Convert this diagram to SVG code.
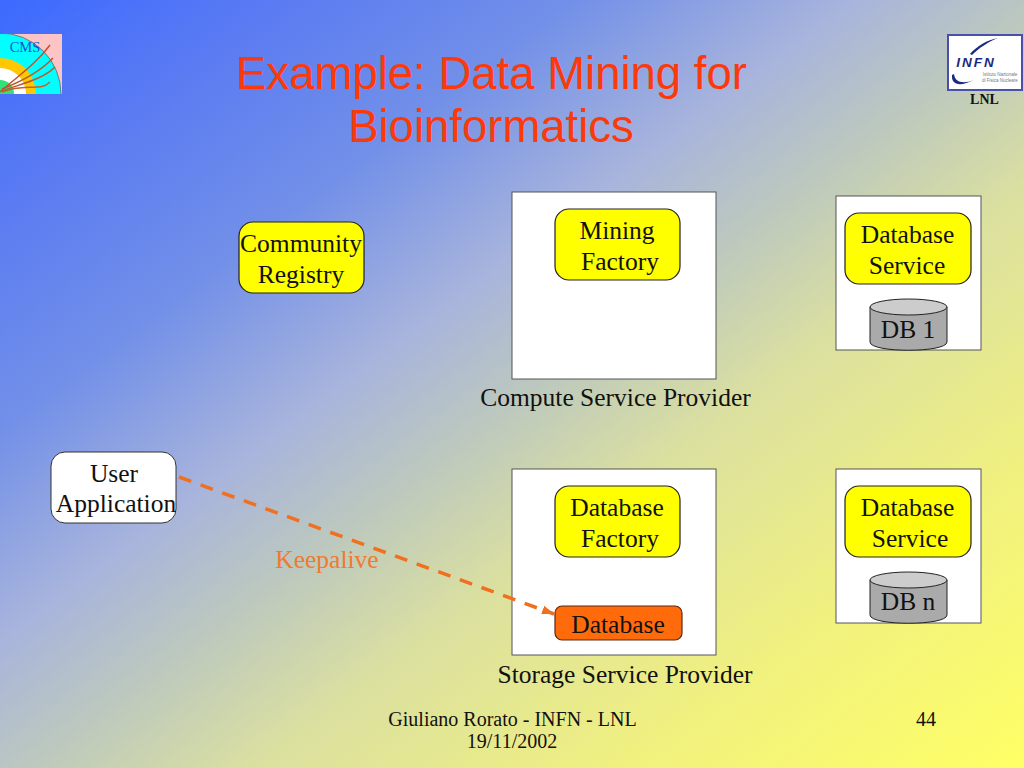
<svg xmlns="http://www.w3.org/2000/svg" width="1024" height="768" viewBox="0 0 1024 768">
<defs>
<linearGradient id="bg" gradientUnits="userSpaceOnUse" x1="0" y1="0" x2="736.800" y2="982.400">
<stop offset="0" stop-color="#3c6aff"/>
<stop offset="0.14" stop-color="#5b7bf2"/>
<stop offset="0.28" stop-color="#7290e8"/>
<stop offset="0.417" stop-color="#a8b4dc"/>
<stop offset="0.513" stop-color="#bcc8be"/>
<stop offset="0.624" stop-color="#dbe0a0"/>
<stop offset="0.8" stop-color="#f0f080"/>
<stop offset="1" stop-color="#ffff66"/>
</linearGradient>
<marker id="arr" markerUnits="userSpaceOnUse" markerWidth="14" markerHeight="12" refX="12" refY="5" orient="auto">
<path d="M0 0.500L12 5L0 9.500Z" fill="#f07020"/>
</marker>
<clipPath id="cmsclip"><rect x="0" y="34" width="62" height="60"/></clipPath>
</defs>
<style>
text{font-family:"Liberation Serif","Times New Roman",serif;font-size:25.5px;fill:#111;text-anchor:middle}
.title{font-family:"Liberation Sans",Arial,sans-serif;font-size:45.5px;fill:#fb3a0c}
.box{fill:#fff;stroke:#555;stroke-width:1}
.svc{fill:#ffff00;stroke:#222;stroke-width:1.2}
.foot{font-size:20px}
.db{fill:#aaa;stroke:#222;stroke-width:1}
.dbt{fill:#ccc;stroke:#222;stroke-width:1}
.sm{font-family:"Liberation Sans",Arial,sans-serif;font-size:4.500px;fill:#777}
</style>
<rect width="1024" height="768" fill="url(#bg)"/>

<g id="cms-logo">
<g clip-path="url(#cmsclip)">
<rect x="0" y="34" width="62" height="60" fill="#fcc4c4"/>
<circle cx="0" cy="94" r="61" fill="#00ffff" stroke="#777" stroke-width="1"/>
<circle cx="0" cy="94" r="36" fill="#ffc800"/>
<circle cx="0" cy="94" r="26" fill="#ffffff"/>
<circle cx="0" cy="94" r="14" fill="#33e07a"/>
<g fill="none" stroke-width="1.5">
<path d="M0 92C18 76 36 64 50 45" stroke="#c8502a"/>
<path d="M2 89C20 82 40 72 53 58" stroke="#b85a30"/>
<path d="M2 91C20 84 42 80 55 67" stroke="#b85a30"/>
<path d="M2 92C18 86 28 88 37 87C42 87 47 85 50 82" stroke="#c8602a"/>
</g>
</g>
<text x="25" y="52" style="font-size:14.500px;fill:#1a50d0">CMS</text>
</g>

<g id="infn-logo">
<rect x="948" y="35" width="74" height="55" fill="#fff" stroke="#4a50a8" stroke-width="2"/>
<path d="M970 54C977 46 987 40 998 38C988 42 979 48 972 55Z" fill="#1a2a80"/>
<path d="M952 75C951 85 960 87 974 80C964 84 955 83 954 74Z" fill="#1a2a80"/>
<text x="976" y="67" style="font-family:'Liberation Sans',Arial,sans-serif;font-size:13.500px;font-weight:bold;font-style:italic;fill:#1a2a80;letter-spacing:2px">INFN</text>
<text class="sm" x="1000" y="76">Istituto Nazionale</text>
<text class="sm" x="1000" y="82">di Fisica Nucleare</text>
<text x="984.500" y="104" style="font-size:14px;font-weight:bold">LNL</text>
</g>

<g id="title">
<text class="title" x="491.500" y="89">Example: Data Mining for</text>
<text class="title" x="491" y="142">Bioinformatics</text>
</g>

<g id="community-registry">
<rect class="svc" x="239" y="222" width="125" height="71" rx="14"/>
<text x="301" y="252">Community</text>
<text x="301" y="283">Registry</text>
</g>

<g id="compute-provider">
<rect class="box" x="512" y="192" width="204" height="187"/>
<text x="615.500" y="406">Compute Service Provider</text>
</g>
<g id="mining-factory">
<rect class="svc" x="555" y="209" width="125" height="71" rx="14"/>
<text x="617" y="239">Mining</text>
<text x="620" y="270">Factory</text>
</g>

<g id="db1-provider">
<rect class="box" x="836" y="196" width="145" height="154"/>
</g>
<g id="database-service-1">
<rect class="svc" x="845" y="213" width="126" height="71" rx="14"/>
<text x="907.500" y="243">Database</text>
<text x="907" y="274">Service</text>
</g>
<g id="db-1">
<path class="db" d="M870 307V342C870 353 947 353 947 342V307Z"/>
<ellipse class="dbt" cx="908.500" cy="307" rx="38.500" ry="8"/>
<text x="908" y="338">DB 1</text>
</g>

<g id="user-application">
<rect x="51" y="452" width="125" height="71" rx="14" fill="#fff" stroke="#333" stroke-width="1"/>
<text x="114" y="482">User</text>
<text x="116" y="512">Application</text>
</g>

<g id="storage-provider">
<rect class="box" x="512" y="469" width="204" height="186"/>
<text x="625" y="683">Storage Service Provider</text>
</g>
<g id="database-factory">
<rect class="svc" x="555" y="486" width="125" height="71" rx="14"/>
<text x="617" y="516">Database</text>
<text x="620" y="547">Factory</text>
</g>
<g id="database">
<rect x="555" y="606" width="127" height="34" rx="7" fill="#ff6a0a" stroke="#5a2a10" stroke-width="1.200"/>
<text x="618" y="633">Database</text>
</g>

<g id="dbn-provider">
<rect class="box" x="836" y="469" width="145" height="154"/>
</g>
<g id="database-service-n">
<rect class="svc" x="845" y="486" width="126" height="71" rx="14"/>
<text x="907.500" y="516">Database</text>
<text x="910" y="547">Service</text>
</g>
<g id="db-n">
<path class="db" d="M870 580V615C870 626 947 626 947 615V580Z"/>
<ellipse class="dbt" cx="908.500" cy="580" rx="38.500" ry="8"/>
<text x="908" y="610">DB n</text>
</g>

<g id="connectors">
<line x1="179" y1="477" x2="554" y2="614" stroke="#f07020" stroke-width="3.500" stroke-dasharray="13 10" marker-end="url(#arr)"/>
</g>
<text x="327" y="568" style="fill:#f07a30">Keepalive</text>

<g id="footer">
<text class="foot" x="512.500" y="726">Giuliano Rorato - INFN - LNL</text>
<text class="foot" x="512" y="748">19/11/2002</text>
<text class="foot" x="926" y="726">44</text>
</g>
</svg>
